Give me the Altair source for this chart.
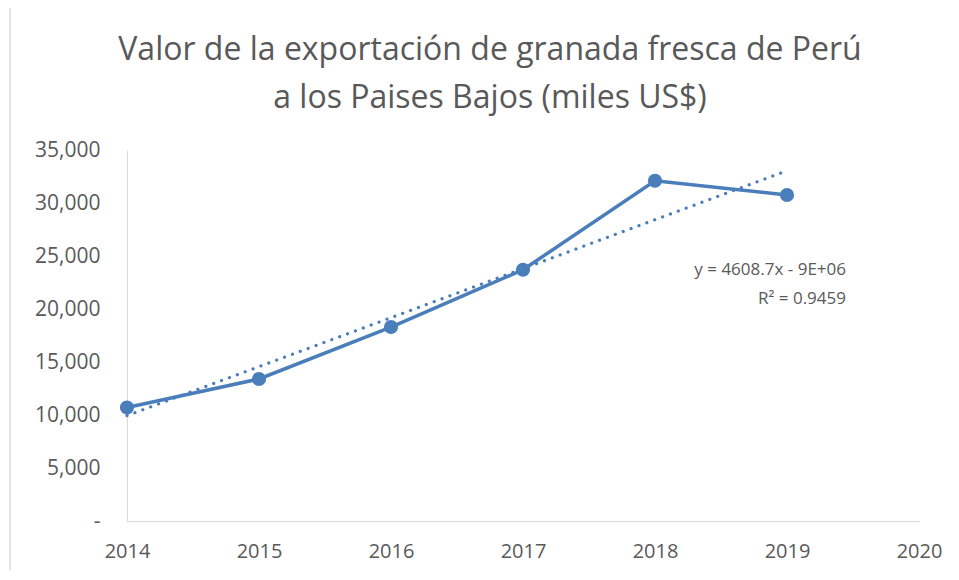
import altair as alt
import pandas as pd

years = [2014, 2015, 2016, 2017, 2018, 2019]
values = [10700, 13400, 18300, 23700, 32100, 30750]
title_lines = ["Valor de la exportación de granada fresca de Perú", "a los Paises Bajos (miles US$)"]
equation_lines = ["y = 4608.7x - 9E+06", "R² = 0.9459"]

df = pd.DataFrame({"year": years, "value": values})

BLUE = "#4a7ebb"
GREY = "#595959"
FONT = "Open Sans"

x = alt.X("year:Q", scale=alt.Scale(domain=[2014, 2020], nice=False, zero=False),
          axis=alt.Axis(values=[2014, 2015, 2016, 2017, 2018, 2019, 2020], format="d",
                        title=None, grid=False, ticks=False, domainColor="#d9d9d9",
                        labelFlush=False, labelOverlap=False,
                        labelPadding=20, labelFontSize=20, labelColor=GREY, labelFont=FONT))
y = alt.Y("value:Q", scale=alt.Scale(domain=[0, 35000], nice=False),
          axis=alt.Axis(values=[0, 5000, 10000, 15000, 20000, 25000, 30000, 35000],
                        labelExpr="datum.value == 0 ? '-\u00a0\u00a0\u00a0' : format(datum.value, ',')",
                        title=None, grid=False, ticks=False, domainColor="#d9d9d9",
                        labelFlush=False, labelOverlap=False,
                        labelPadding=27, labelFontSize=21, labelColor=GREY, labelFont=FONT))

base = alt.Chart(df)

line = base.mark_line(color=BLUE, strokeWidth=3.5).encode(x=x, y=y)
points = base.mark_circle(color=BLUE, size=200, opacity=1).encode(x="year:Q", y="value:Q")
trend = base.transform_regression("year", "value").mark_line(
    color=BLUE, strokeWidth=3.2, strokeDash=[0.1, 8.3], strokeCap="round"
).encode(x="year:Q", y="value:Q")

def text_line(s, xpix, ypix, size, align):
    return alt.Chart(pd.DataFrame({"t": [s]})).mark_text(
        align=align, baseline="middle", fontSize=size, font=FONT, color=GREY, clip=False
    ).encode(text="t:N", x=alt.value(xpix), y=alt.value(ypix))

eq1 = text_line(equation_lines[0], 719, 120, 17, "right")
eq2 = text_line(equation_lines[1], 719, 149, 17, "right")
t1 = text_line(title_lines[0], 363, -100, 32, "center")
t2 = text_line(title_lines[1], 363, -52, 32, "center")

border_left = alt.Chart(pd.DataFrame({"a": [0]})).mark_rule(color="#d9d9d9", strokeWidth=1.5, clip=False).encode(
    x=alt.value(-117), y=alt.value(-144), y2=alt.value(420))
border_top = alt.Chart(pd.DataFrame({"a": [0]})).mark_rule(color="#d9d9d9", strokeWidth=1.5, clip=False).encode(
    x=alt.value(-117), x2=alt.value(824), y=alt.value(-144))

chart = alt.layer(border_left, border_top, line, points, trend, eq1, eq2, t1, t2).properties(
    width=792, height=371,
    autosize=alt.AutoSizeParams(type="none"),
    padding={"left": 119, "top": 142, "right": 32, "bottom": 50},
).configure_view(stroke=None)

chart.save("out.html", embed_options={"renderer": "svg", "actions": False})
